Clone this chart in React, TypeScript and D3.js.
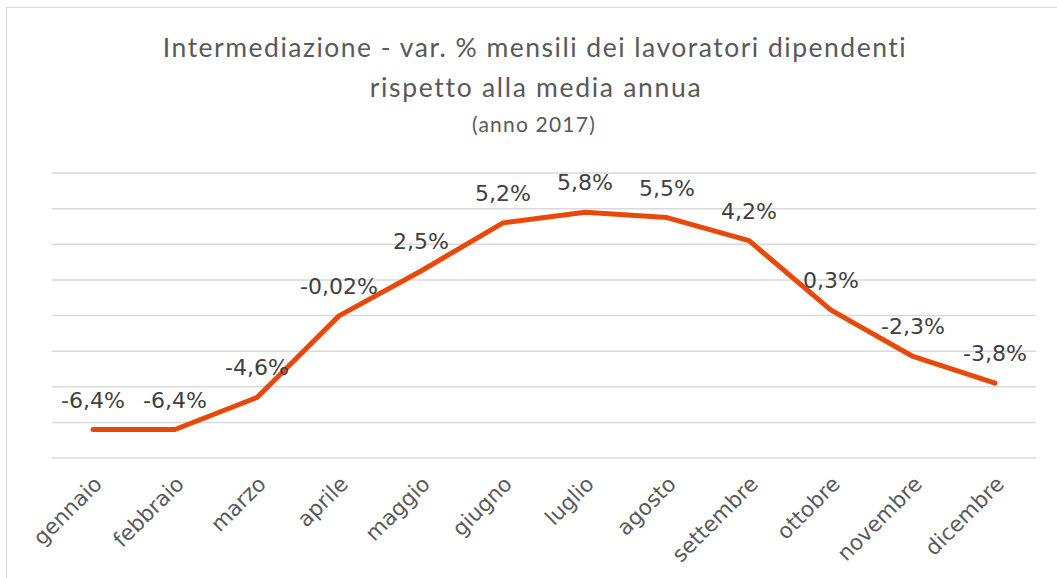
import * as d3 from "d3";

const months = [
  "gennaio", "febbraio", "marzo", "aprile", "maggio", "giugno",
  "luglio", "agosto", "settembre", "ottobre", "novembre", "dicembre",
];
const values = [-6.4, -6.4, -4.6, -0.02, 2.5, 5.2, 5.8, 5.5, 4.2, 0.3, -2.3, -3.8];
const valueLabels = [
  "-6,4%", "-6,4%", "-4,6%", "-0,02%", "2,5%", "5,2%",
  "5,8%", "5,5%", "4,2%", "0,3%", "-2,3%", "-3,8%",
];
const yTicks = [-8, -6, -4, -2, 0, 2, 4, 6, 8];

const width = 1057;
const height = 578;

const App = () => {
  const x = d3.scaleBand<string>().domain(months).range([52, 1036]);
  const y = d3.scaleLinear().domain([-8, 8]).range([458, 173]);
  const cx = (m: string) => (x(m) ?? 0) + x.bandwidth() / 2;

  const line = d3
    .line<number>()
    .x((_, i) => cx(months[i]))
    .y(d => y(d));

  return (
    <svg
      width={width}
      height={height}
      style={{ position: "absolute", left: 0, top: 0, background: "#fff" }}
    >
      <rect x={6.5} y={7.5} width={1080} height={600} fill="#fff" stroke="#d9d9d9" />
      <g fontFamily="Lato, sans-serif" fill="#595959" textAnchor="middle">
        <text x={535} y={57} fontSize={26.5} letterSpacing={1.5}>
          Intermediazione - var. % mensili dei lavoratori dipendenti
        </text>
        <text x={536} y={97} fontSize={26.5} letterSpacing={1.7}>
          rispetto alla media annua
        </text>
        <text x={534} y={132} fontSize={21} letterSpacing={1.2}>
          (anno 2017)
        </text>
      </g>
      {yTicks.map(t => (
        <line
          key={t}
          x1={52}
          x2={1036}
          y1={y(t)}
          y2={y(t)}
          stroke="#d9d9d9"
          strokeWidth={1.5}
        />
      ))}
      <path
        d={line(values) ?? ""}
        fill="none"
        stroke="#e8490b"
        strokeWidth={5}
        strokeLinejoin="round"
        strokeLinecap="round"
      />
      <g fontFamily="DejaVu Sans, sans-serif" fontSize={22} fill="#404040" textAnchor="middle">
        {values.map((v, i) => (
          <text key={i} x={cx(months[i])} y={y(v) - 22}>
            {valueLabels[i]}
          </text>
        ))}
      </g>
      <g fontFamily="DejaVu Sans, sans-serif" fontSize={21.5} fill="#595959" textAnchor="end">
        {months.map(m => (
          <text
            key={m}
            transform={`translate(${cx(m) + 5},${480}) rotate(-45)`}
            dy="0.35em"
          >
            {m}
          </text>
        ))}
      </g>
    </svg>
  );
};

export default App;
